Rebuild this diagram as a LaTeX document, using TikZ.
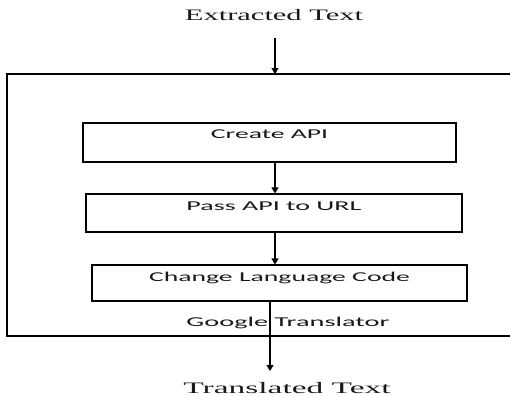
\documentclass[tikz,border=0pt]{standalone}
\usepackage{fontspec}
\usetikzlibrary{arrows.meta}
\newfontfamily\serifface{Liberation Serif}
\newfontfamily\sansface{Carlito}
\newcommand\serifwide[2]{\resizebox{#1bp}{\height}{\serifface\fontsize{16bp}{19bp}\selectfont #2}}
\newcommand\sanswide[2]{\resizebox{#1bp}{\height}{\sansface\fontsize{13.5bp}{16bp}\selectfont #2}}
\begin{document}
\begin{tikzpicture}[x=1bp,y=-1bp,
  stepbox/.style={draw, line width=1.1bp, inner sep=0pt, text=black!90},
  arr/.style={-{Triangle[width=7bp,length=6bp]}, line width=1.1bp},
  plain/.style={inner sep=0pt, text=black!90}]
\useasboundingbox (0,0) rectangle (510,396);
% container
\draw[line width=1.3bp] (511,74) -- (7,74) -- (7,336) -- (511,336);
\coordinate (top) at (275,74);
\coordinate (tend) at (270,371);
% texts
\node[plain] (ext) at (274,15) {\serifwide{178}{Extracted Text}};
\node[plain] (trans) at (287,388) {\serifwide{207}{Translated Text}};
% boxes
\node[stepbox, minimum width=373bp, text height=15.5bp, text depth=23.5bp] (b1) at (269.5,142.5) {\sanswide{117}{Create API}};
\node[stepbox, minimum width=376bp, text height=16.5bp, text depth=21.5bp] (b2) at (274,213) {\sanswide{175}{Pass API to URL}};
\node[stepbox, minimum width=375bp, text height=16.5bp, text depth=19.5bp] (b3) at (279.5,283) {\sanswide{261}{Change Language Code}};
\node[plain] (gt) at (288,323) {\sanswide{203}{Google Translator}};
% connectors
\draw[arr, shorten <=17bp] (ext.south -| top) -- (top);
\draw[arr] (b1.south -| top) -- (b2.north -| top);
\draw[arr] (b2.south -| top) -- (b3.north -| top);
\draw[arr] (b3.south -| tend) -- (tend);
\end{tikzpicture}
\end{document}
